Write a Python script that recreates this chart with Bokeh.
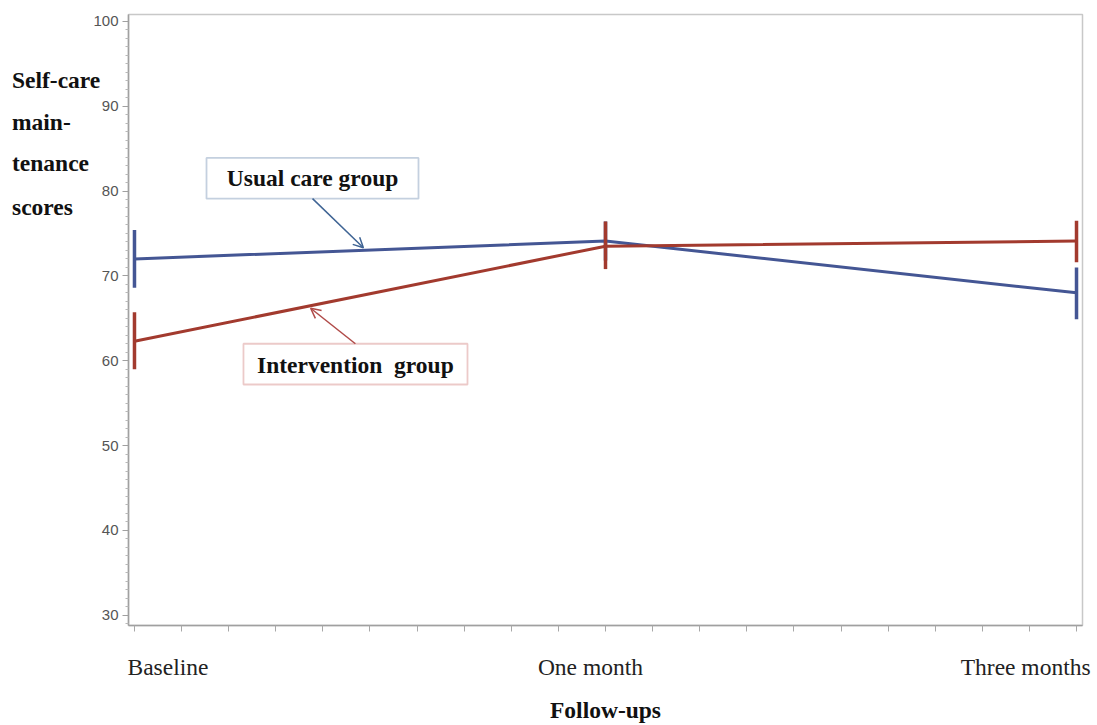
from bokeh.plotting import figure
from bokeh.models import (FixedTicker, Label, BoxAnnotation, Arrow, OpenHead,
                          Range1d, Div)
from bokeh.layouts import row
from bokeh.embed import file_html
from bokeh.resources import INLINE

# Follow-up time points (positions on the x axis) and their labels
visits = [0, 1, 2]
visit_labels = ["Baseline", "One month", "Three months"]

# Self-care maintenance scores: means and interval limits per group
usual_mean = [72.0, 74.1, 68.0]
usual_lower = [68.6, 71.8, 64.9]
usual_upper = [75.4, 76.4, 71.0]

interv_mean = [62.3, 73.5, 74.1]
interv_lower = [59.0, 70.8, 71.6]
interv_upper = [65.7, 76.4, 76.5]

y_major = [30, 40, 50, 60, 70, 80, 90, 100]
y_title_lines = ["Self-care", "main-", "tenance", "scores"]

BLUE = "#445694"
RED = "#A23A2E"
SERIF = "Liberation Serif"
SANS = "Liberation Sans"
W, H = 1097, 725
MARGIN_W = 89          # width of the column holding the y-axis title
SERIF_SIZE = "23.5px"

p = figure(width=W - MARGIN_W, height=H, output_backend="svg",
           toolbar_location=None,
           x_range=Range1d(-0.0127, 2.0127), y_range=Range1d(28.8, 100.8),
           min_border_left=128 - MARGIN_W, min_border_right=15,
           min_border_top=14, min_border_bottom=100, margin=0)

p.grid.visible = False
p.outline_line_color = "#c8c8c8"
p.outline_line_width = 1.5
p.background_fill_color = "white"
p.border_fill_alpha = 0.0

# x axis: visit names sit a little right of / inside their ticks; the
# tick marks themselves are the 0.1-spaced minor ticks
label_pos = [0.071, 0.968, 1.892]
x_minor = [v / 10 for v in range(0, 21)]
xa = p.xaxis[0]
xa.ticker = FixedTicker(ticks=label_pos, minor_ticks=x_minor)
xa.major_label_overrides = {v: lab for v, lab in zip(label_pos, visit_labels)}
xa.major_tick_line_color = None
xa.major_tick_out = 0
xa.major_tick_in = 0
xa.minor_tick_out = 6
xa.minor_tick_in = 0
xa.minor_tick_line_color = "#a8a8a8"
xa.major_label_standoff = 22
xa.major_label_text_font = SERIF
xa.major_label_text_font_size = SERIF_SIZE
xa.major_label_text_color = "#222222"
xa.axis_label = "Follow-ups"
xa.axis_label_text_font = SERIF
xa.axis_label_text_font_style = "bold"
xa.axis_label_text_font_size = SERIF_SIZE
xa.axis_label_text_color = "#111111"
xa.axis_label_standoff = 14
xa.axis_line_color = "#a0a0a0"
xa.axis_line_width = 1.5

# y axis: decades with unit minor ticks
y_minor = [v for v in range(29, 101) if v % 10 != 0]
ya = p.yaxis[0]
ya.ticker = FixedTicker(ticks=y_major, minor_ticks=y_minor)
ya.major_label_text_font = SANS
ya.major_label_text_font_size = "15px"
ya.major_label_text_color = "#555555"
ya.major_label_standoff = 4
ya.major_tick_out = 6
ya.major_tick_in = 0
ya.minor_tick_out = 3
ya.minor_tick_in = 0
ya.axis_line_color = "#a0a0a0"
ya.axis_line_width = 1.5
ya.major_tick_line_color = "#a0a0a0"
ya.minor_tick_line_color = "#b8b8b8"

# Usual care group: mean line and vertical interval bars
p.line(visits, usual_mean, line_color=BLUE, line_width=3)
p.segment(x0=visits, y0=usual_lower, x1=visits, y1=usual_upper,
          line_color=BLUE, line_width=3.5)

# Intervention group
p.line(visits, interv_mean, line_color=RED, line_width=3)
p.segment(x0=visits, y0=interv_lower, x1=visits, y1=interv_upper,
          line_color=RED, line_width=3.5)

# Callout boxes naming each group, with arrows pointing to the lines
p.add_layout(BoxAnnotation(left=0.1529, right=0.6030, bottom=79.1, top=83.9,
                           fill_color="white", fill_alpha=1.0,
                           line_color="#3d6496", line_width=1.8))
p.add_layout(Label(x=0.378, y=81.5, text="Usual care group", text_font=SERIF,
                   text_font_style="bold", text_font_size=SERIF_SIZE,
                   text_color="#111111", text_align="center",
                   text_baseline="middle"))
tip_x_u = 0.486
tip_y_u = usual_mean[0] + (usual_mean[1] - usual_mean[0]) * tip_x_u + 0.3
p.add_layout(Arrow(x_start=0.378, y_start=79.1, x_end=tip_x_u, y_end=tip_y_u,
                   line_color="#3f6494", line_width=1.5,
                   end=OpenHead(size=10, line_color="#3f6494", line_width=1.5)))

p.add_layout(BoxAnnotation(left=0.2314, right=0.7070, bottom=57.2, top=62.0,
                           fill_color="white", fill_alpha=1.0,
                           line_color="#c0504d", line_width=1.8))
p.add_layout(Label(x=0.469, y=59.55, text="Intervention\u00a0 group",
                   text_font=SERIF, text_font_style="bold",
                   text_font_size=SERIF_SIZE, text_color="#111111",
                   text_align="center", text_baseline="middle"))
tip_x_i = 0.374
tip_y_i = interv_mean[0] + (interv_mean[1] - interv_mean[0]) * tip_x_i - 0.3
p.add_layout(Arrow(x_start=0.469, y_start=62.0, x_end=tip_x_i, y_end=tip_y_i,
                   line_color="#b04a48", line_width=1.5,
                   end=OpenHead(size=10, line_color="#b04a48", line_width=1.5)))

# Y-axis title: stacked horizontal lines in a narrow column on the left
line_centres = [81, 123, 164, 208]
inner = "".join(
    f'<div style="position:absolute;left:12px;top:{c}px;'
    f'transform:translateY(-50%);white-space:nowrap;">{t}</div>'
    for t, c in zip(y_title_lines, line_centres))
title_div = Div(
    text=(f'<div style="position:relative;width:{MARGIN_W}px;height:{H}px;'
          f"font-family:'{SERIF}';font-weight:bold;font-size:{SERIF_SIZE};"
          f'color:#111111;line-height:1;overflow:visible;">{inner}</div>'),
    width=MARGIN_W, height=H, margin=0,
    styles={"overflow": "visible", "z-index": "5"})

layout = row(title_div, p, spacing=0)
open("out.html", "w").write(file_html(layout, INLINE))
